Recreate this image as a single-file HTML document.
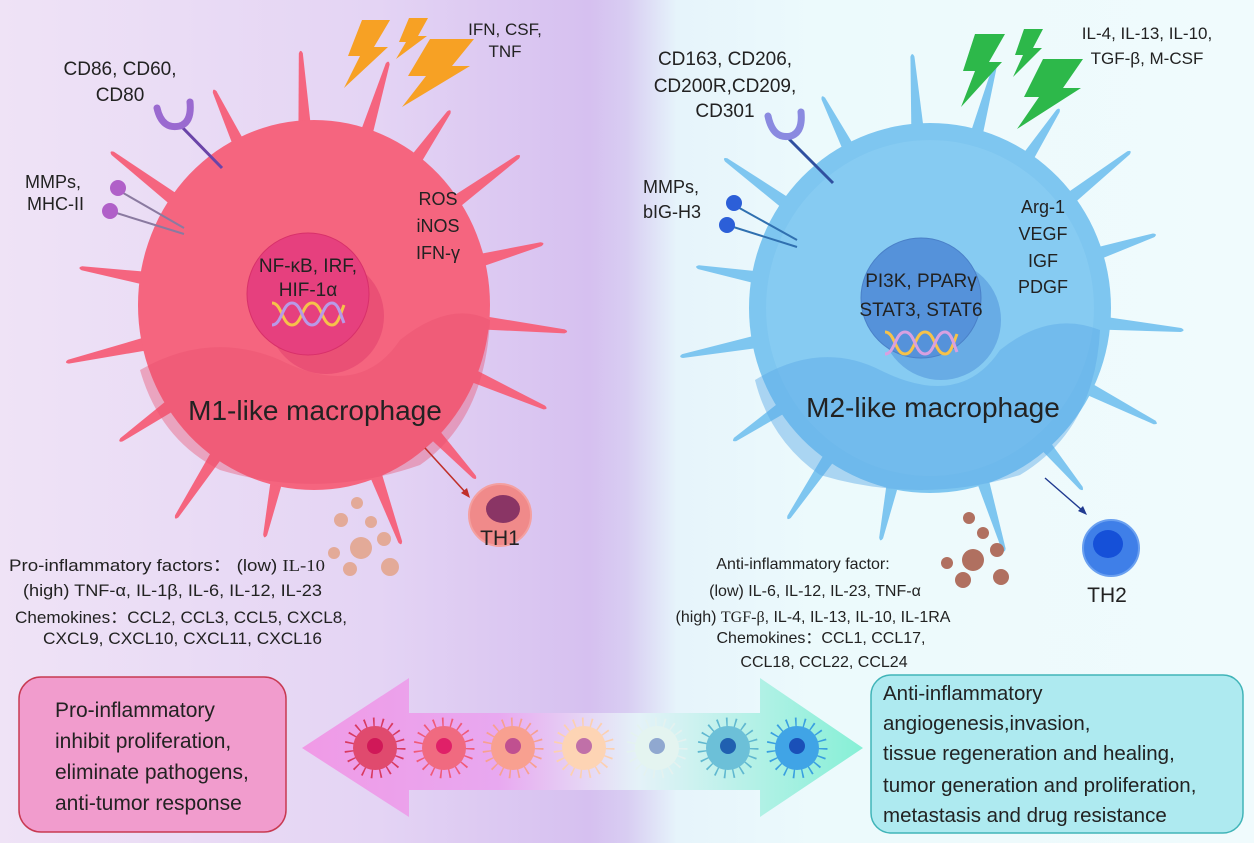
<!DOCTYPE html>
<html><head><meta charset="utf-8"><style>
html,body{margin:0;padding:0;}
body{width:1254px;height:843px;overflow:hidden;}
svg{display:block;font-family:"Liberation Sans",Arial,sans-serif;}
</style></head><body>
<svg width="1254" height="843" viewBox="0 0 1254 843" xmlns="http://www.w3.org/2000/svg">
<defs>
<linearGradient id="bg" x1="0" y1="0" x2="1" y2="0">
<stop offset="0" stop-color="#efe3f6"/>
<stop offset="0.3" stop-color="#e4d4f4"/>
<stop offset="0.47" stop-color="#d6c0f0"/>
<stop offset="0.5" stop-color="#d8cdf2"/>
<stop offset="0.54" stop-color="#e6f4fb"/>
<stop offset="0.65" stop-color="#ecfafc"/>
<stop offset="1" stop-color="#f0fbfd"/>
</linearGradient>
<linearGradient id="arr" x1="0" y1="0" x2="1" y2="0">
<stop offset="0" stop-color="#f09ae6"/>
<stop offset="0.35" stop-color="#e8a8f0"/>
<stop offset="0.6" stop-color="#e4f2f8"/>
<stop offset="1" stop-color="#86f0d6"/>
</linearGradient>
<path id="sp" d="M-7,-165 L-2,-252 Q0,-257 2,-252 L7,-165 Z"/>
<path id="spS" d="M-7,-165 L-2,-235 Q0,-240 2,-235 L7,-165 Z"/>
</defs>
<rect width="1254" height="843" fill="url(#bg)"/>

<!-- M1 spikes -->
<g fill="#f5657f">
<use href="#sp" transform="translate(314 305) rotate(-3)"/>
<use href="#spS" transform="translate(314 305) rotate(-25)"/>
<use href="#sp" transform="translate(314 305) rotate(-53)"/>
<use href="#spS" transform="translate(314 305) rotate(-81)"/>
<use href="#sp" transform="translate(314 305) rotate(-103)"/>
<use href="#spS" transform="translate(314 305) rotate(-125)"/>
<use href="#sp" transform="translate(314 305) rotate(-147)"/>
<use href="#spS" transform="translate(314 305) rotate(-168)"/>
<use href="#sp" transform="translate(314 305) rotate(160)"/>
<use href="#spS" transform="translate(314 305) rotate(137)"/>
<use href="#sp" transform="translate(314 305) rotate(114)"/>
<use href="#sp" transform="translate(314 305) rotate(96)"/>
<use href="#spS" transform="translate(314 305) rotate(75)"/>
<use href="#sp" transform="translate(314 305) rotate(54)"/>
<use href="#spS" transform="translate(314 305) rotate(35)"/>
<use href="#sp" transform="translate(314 305) rotate(17)"/>
</g>
<ellipse cx="314" cy="305" rx="176" ry="185" fill="#f5657f"/>
<path d="M140,370 Q210,330 280,360 Q360,400 400,340 Q450,300 490,320 Q485,420 420,465 Q320,500 220,470 Q160,440 140,370 Z" fill="#e8506f" opacity="0.4"/>
<circle cx="326" cy="316" r="58" fill="#e0406e" opacity="0.55"/>
<circle cx="308" cy="294" r="61" fill="#e6407e" stroke="#d8306a" stroke-width="1"/>
<text x="308" y="272" font-size="19" text-anchor="middle" fill="#222">NF-κB, IRF,</text>
<text x="308" y="296" font-size="19" text-anchor="middle" fill="#222">HIF-1α</text>
<g fill="none" stroke-width="3">
<path d="M272,303 C282,303 282,325 292,325 C302,325 302,303 312,303 C322,303 322,325 332,325 C338,325 340,315 344,305" stroke="#f6c24a"/>
<path d="M272,325 C282,325 282,303 292,303 C302,303 302,325 312,325 C322,325 322,303 332,303 C338,303 340,313 344,323" stroke="#b89ae8"/>
</g>
<text x="315" y="420" font-size="28" text-anchor="middle" fill="#222">M1-like macrophage</text>
<text x="438" y="205" font-size="18" text-anchor="middle" fill="#222">ROS</text>
<text x="438" y="232" font-size="18" text-anchor="middle" fill="#222">iNOS</text>
<text x="438" y="259" font-size="18" text-anchor="middle" fill="#222">IFN-γ</text>

<line x1="180" y1="125" x2="222" y2="168" stroke="#6a44a8" stroke-width="3"/>
<path d="M157,108 Q162,130 180,126 Q192,122 190,102" fill="none" stroke="#9a6ad0" stroke-width="7" stroke-linecap="round"/>
<line x1="118" y1="190" x2="184" y2="228" stroke="#8a7aa0" stroke-width="2"/>
<line x1="110" y1="211" x2="184" y2="234" stroke="#8a7aa0" stroke-width="2"/>
<circle cx="118" cy="188" r="8" fill="#b060c8"/>
<circle cx="110" cy="211" r="8" fill="#b060c8"/>
<text x="120" y="75" font-size="19" text-anchor="middle" fill="#222">CD86, CD60,</text>
<text x="120" y="101" font-size="19" text-anchor="middle" fill="#222">CD80</text>
<text x="25" y="188" font-size="18" fill="#222">MMPs,</text>
<text x="27" y="210" font-size="18" fill="#222">MHC-II</text>
<text x="505" y="35" font-size="17" text-anchor="middle" fill="#222">IFN, CSF,</text>
<text x="505" y="57" font-size="17" text-anchor="middle" fill="#222">TNF</text>
<g fill="#f7a124">
<polygon points="362,20 390,20 374,47 388,47 344,88 360,56 348,56"/>
<polygon points="409,18 428,18 418,36 427,36 396,59 406,42 399,42"/>
<polygon points="430,39 474,39 452,66 470,66 402,107 426,76 408,76"/>
</g>

<!-- M2 spikes -->
<g fill="#7ec6f0">
<use href="#sp" transform="translate(930 308) rotate(-4)"/>
<use href="#spS" transform="translate(930 308) rotate(-27)"/>
<use href="#sp" transform="translate(930 308) rotate(-54)"/>
<use href="#spS" transform="translate(930 308) rotate(-80)"/>
<use href="#sp" transform="translate(930 308) rotate(-101)"/>
<use href="#spS" transform="translate(930 308) rotate(-124)"/>
<use href="#sp" transform="translate(930 308) rotate(-146)"/>
<use href="#spS" transform="translate(930 308) rotate(-168)"/>
<use href="#sp" transform="translate(930 308) rotate(163)"/>
<use href="#spS" transform="translate(930 308) rotate(140)"/>
<use href="#sp" transform="translate(930 308) rotate(117)"/>
<use href="#sp" transform="translate(930 308) rotate(95)"/>
<use href="#spS" transform="translate(930 308) rotate(72)"/>
<use href="#sp" transform="translate(930 308) rotate(52)"/>
<use href="#spS" transform="translate(930 308) rotate(33)"/>
<use href="#sp" transform="translate(930 308) rotate(15)"/>
</g>
<ellipse cx="930" cy="308" rx="181" ry="185" fill="#7ec6f0"/>
<ellipse cx="930" cy="308" rx="164" ry="168" fill="#8dcff4" opacity="0.5"/>
<path d="M755,380 Q820,340 880,370 Q960,410 1000,350 Q1050,310 1100,330 Q1095,430 1020,475 Q920,505 820,475 Q770,440 755,380 Z" fill="#5aa8e6" opacity="0.45"/>
<circle cx="941" cy="320" r="60" fill="#4a8ed8" opacity="0.5"/>
<circle cx="921" cy="298" r="60" fill="#5592da" stroke="#4a80c8" stroke-width="1"/>
<text x="921" y="287" font-size="19" text-anchor="middle" fill="#222">PI3K, PPARγ</text>
<text x="921" y="316" font-size="19" text-anchor="middle" fill="#222">STAT3, STAT6</text>
<g fill="none" stroke-width="3">
<path d="M885,332 C895,332 895,354 905,354 C915,354 915,332 925,332 C935,332 935,354 945,354 C951,354 953,344 957,334" stroke="#f6c24a"/>
<path d="M885,354 C895,354 895,332 905,332 C915,332 915,354 925,354 C935,354 935,332 945,332 C951,332 953,342 957,352" stroke="#d8a0e0"/>
</g>
<text x="933" y="417" font-size="28" text-anchor="middle" fill="#222">M2-like macrophage</text>
<text x="1043" y="213" font-size="18" text-anchor="middle" fill="#222">Arg-1</text>
<text x="1043" y="240" font-size="18" text-anchor="middle" fill="#222">VEGF</text>
<text x="1043" y="267" font-size="18" text-anchor="middle" fill="#222">IGF</text>
<text x="1043" y="293" font-size="18" text-anchor="middle" fill="#222">PDGF</text>
<line x1="788" y1="138" x2="833" y2="183" stroke="#3050a0" stroke-width="3"/>
<path d="M768,116 Q773,140 791,136 Q803,132 801,112" fill="none" stroke="#8a8ae0" stroke-width="7" stroke-linecap="round"/>
<line x1="734" y1="205" x2="797" y2="240" stroke="#3070b0" stroke-width="2"/>
<line x1="727" y1="225" x2="797" y2="247" stroke="#3070b0" stroke-width="2"/>
<circle cx="734" cy="203" r="8" fill="#2c5fd8"/>
<circle cx="727" cy="225" r="8" fill="#2c5fd8"/>
<text x="725" y="65" font-size="19" text-anchor="middle" fill="#222">CD163, CD206,</text>
<text x="725" y="92" font-size="19" text-anchor="middle" fill="#222">CD200R,CD209,</text>
<text x="725" y="117" font-size="19" text-anchor="middle" fill="#222">CD301</text>
<text x="643" y="193" font-size="18" fill="#222">MMPs,</text>
<text x="643" y="218" font-size="18" fill="#222">bIG-H3</text>
<text x="1147" y="39" font-size="17" text-anchor="middle" fill="#222">IL-4, IL-13, IL-10,</text>
<text x="1147" y="64" font-size="17" text-anchor="middle" fill="#222">TGF-β, M-CSF</text>
<g fill="#2db84a">
<polygon points="975,34 1005,34 989,62 1002,62 961,107 975,71 963,71"/>
<polygon points="1024,29 1043,29 1033,48 1042,48 1013,77 1023,55 1015,55"/>
<polygon points="1043,59 1083,59 1063,88 1081,88 1017,129 1039,97 1024,97"/>
</g>

<!-- TH1 -->
<line x1="425" y1="448" x2="466" y2="493" stroke="#c0302a" stroke-width="1.6"/>
<polygon points="470,498 461,493 467,488" fill="#c0302a"/>
<circle cx="500" cy="515" r="31" fill="#f08a8a" stroke="#f4a0a0" stroke-width="2"/>
<ellipse cx="503" cy="509" rx="17" ry="14" fill="#8a3565"/>
<text x="500" y="545" font-size="21" text-anchor="middle" fill="#222">TH1</text>
<g fill="#e3aa98">
<circle cx="357" cy="503" r="6"/><circle cx="341" cy="520" r="7"/><circle cx="371" cy="522" r="6"/>
<circle cx="384" cy="539" r="7"/><circle cx="361" cy="548" r="11"/><circle cx="334" cy="553" r="6"/>
<circle cx="350" cy="569" r="7"/><circle cx="390" cy="567" r="9"/>
</g>
<!-- TH2 -->
<line x1="1045" y1="478" x2="1083" y2="511" stroke="#203a90" stroke-width="1.4"/>
<polygon points="1087,515 1078,511 1083,506" fill="#203a90"/>
<circle cx="1111" cy="548" r="28" fill="#3f7fe8" stroke="#6aa0f0" stroke-width="2"/>
<ellipse cx="1108" cy="544" rx="15" ry="14" fill="#1550d8"/>
<text x="1107" y="602" font-size="21" text-anchor="middle" fill="#222">TH2</text>
<g fill="#b07060">
<circle cx="969" cy="518" r="6"/><circle cx="983" cy="533" r="6"/><circle cx="997" cy="550" r="7"/>
<circle cx="973" cy="560" r="11"/><circle cx="947" cy="563" r="6"/><circle cx="1001" cy="577" r="8"/><circle cx="963" cy="580" r="8"/>
</g>

<!-- bottom texts -->
<g font-size="17" fill="#222">
<text x="9" y="571" textLength="316" lengthAdjust="spacingAndGlyphs">Pro-inflammatory factors：  (low) <tspan font-family="Liberation Serif">IL-10</tspan></text>
<text x="23" y="596" textLength="299" lengthAdjust="spacingAndGlyphs">(high) TNF-α, IL-1β, IL-6, IL-12, IL-23</text>
<text x="15" y="623" textLength="332" lengthAdjust="spacingAndGlyphs">Chemokines：CCL2, CCL3, CCL5, CXCL8,</text>
<text x="43" y="644" textLength="279" lengthAdjust="spacingAndGlyphs">CXCL9, CXCL10, CXCL11, CXCL16</text>
</g>
<g font-size="16" fill="#222">
<text x="803" y="569" text-anchor="middle">Anti-inflammatory factor:</text>
<text x="815" y="596" text-anchor="middle">(low) IL-6, IL-12, IL-23, TNF-α</text>
<text x="813" y="622" text-anchor="middle">(high) <tspan font-family="Liberation Serif">TGF-β</tspan>, IL-4, IL-13, IL-10, IL-1RA</text>
<text x="821" y="643" text-anchor="middle">Chemokines：CCL1, CCL17,</text>
<text x="824" y="667" text-anchor="middle">CCL18, CCL22, CCL24</text>
</g>

<!-- double arrow -->
<polygon points="302,748 409,678 409,713 760,713 760,678 863,748 760,817 760,790 409,790 409,817" fill="url(#arr)"/>
<g>
<circle cx="375" cy="748" r="26" fill="none" stroke="#d83a60" stroke-width="9" stroke-dasharray="1.6 7"/>
<circle cx="375" cy="748" r="22" fill="#e04a6e"/><circle cx="375" cy="746" r="8" fill="#d01858"/>
<circle cx="444" cy="748" r="26" fill="none" stroke="#f05a78" stroke-width="9" stroke-dasharray="1.6 7"/>
<circle cx="444" cy="748" r="22" fill="#f06a80"/><circle cx="444" cy="746" r="8" fill="#e02068"/>
<circle cx="513" cy="748" r="26" fill="none" stroke="#f7a090" stroke-width="9" stroke-dasharray="1.6 7"/>
<circle cx="513" cy="748" r="22" fill="#f8a090"/><circle cx="513" cy="746" r="8" fill="#c05090"/>
<circle cx="584" cy="748" r="26" fill="none" stroke="#fcd0b0" stroke-width="9" stroke-dasharray="1.6 7"/>
<circle cx="584" cy="748" r="22" fill="#fdd4b4"/><circle cx="584" cy="746" r="8" fill="#c070a8"/>
<circle cx="657" cy="748" r="26" fill="none" stroke="#e4f2f0" stroke-width="9" stroke-dasharray="1.6 7"/>
<circle cx="657" cy="748" r="22" fill="#e4f4f0"/><circle cx="657" cy="746" r="8" fill="#90a8d0"/>
<circle cx="728" cy="748" r="26" fill="none" stroke="#60b8d0" stroke-width="9" stroke-dasharray="1.6 7"/>
<circle cx="728" cy="748" r="22" fill="#6cc0d8"/><circle cx="728" cy="746" r="8" fill="#2060b0"/>
<circle cx="797" cy="748" r="26" fill="none" stroke="#3aa0e0" stroke-width="9" stroke-dasharray="1.6 7"/>
<circle cx="797" cy="748" r="22" fill="#40a4e6"/><circle cx="797" cy="746" r="8" fill="#1a50b8"/>
</g>

<!-- boxes -->
<rect x="19" y="677" width="267" height="155" rx="22" fill="#f19ccd" stroke="#c83a52" stroke-width="1.5"/>
<g font-size="21" fill="#222">
<text x="55" y="717">Pro-inflammatory</text>
<text x="55" y="748">inhibit proliferation,</text>
<text x="55" y="779">eliminate pathogens,</text>
<text x="55" y="810">anti-tumor response</text>
</g>
<rect x="871" y="675" width="372" height="158" rx="20" fill="#aeeaf0" stroke="#40b4b8" stroke-width="1.5"/>
<g font-size="20.5" fill="#222">
<text x="883" y="700">Anti-inflammatory</text>
<text x="883" y="730">angiogenesis,invasion,</text>
<text x="883" y="760">tissue regeneration and healing,</text>
<text x="883" y="792">tumor generation and proliferation,</text>
<text x="883" y="822">metastasis and drug resistance</text>
</g>
</svg>
</body></html>
